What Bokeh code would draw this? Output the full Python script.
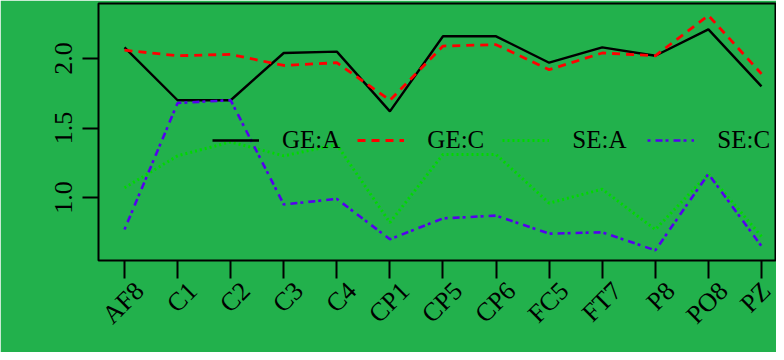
import math
from bokeh.plotting import figure
from bokeh.models import (FixedTicker, Legend, LegendItem, ColumnDataSource, Range1d,
                          LinearAxis, PrintfTickFormatter)
from bokeh.embed import file_html
from bokeh.resources import INLINE

channels = ["AF8", "C1", "C2", "C3", "C4", "CP1", "CP5", "CP6", "FC5", "FT7", "P8", "PO8", "PZ"]
ge_a = [2.08, 1.70, 1.70, 2.04, 2.05, 1.62, 2.16, 2.16, 1.97, 2.08, 2.02, 2.21, 1.80]
ge_c = [2.06, 2.02, 2.03, 1.95, 1.97, 1.70, 2.09, 2.10, 1.92, 2.04, 2.02, 2.31, 1.89]
se_a = [1.07, 1.30, 1.40, 1.30, 1.38, 0.82, 1.31, 1.31, 0.96, 1.06, 0.77, 1.17, 0.72]
se_c = [0.77, 1.68, 1.70, 0.95, 0.99, 0.70, 0.85, 0.87, 0.74, 0.75, 0.62, 1.17, 0.65]
y_ticks = [1.0, 1.5, 2.0]

idx = list(range(1, len(channels) + 1))
src = ColumnDataSource(dict(x=idx, ge_a=ge_a, ge_c=ge_c, se_a=se_a, se_c=se_c))

BG = "#22B14C"
FONT = "Liberation Serif"
X0, X1 = 0.51, 13.283
FRAME_W = 678
shift = 15 * (X1 - X0) / FRAME_W   # label shift to the right, in x units

p = figure(width=776, height=352, output_backend="svg", toolbar_location=None,
           x_range=Range1d(X0, X1), y_range=Range1d(0.547, 2.396),
           min_border_left=98, min_border_right=0, min_border_top=3, min_border_bottom=92)
p.extra_x_ranges = {"lab": Range1d(X0 - shift, X1 - shift)}
p.background_fill_color = BG
p.border_fill_color = BG
p.outline_line_color = "black"
p.outline_line_width = 2
p.grid.visible = False

r1 = p.line("x", "ge_a", source=src, line_color="black", line_width=2.4)
r2 = p.line("x", "ge_c", source=src, line_color="#FF0000", line_width=2.8, line_dash="8 6")
r3 = p.line("x", "se_a", source=src, line_color="#00D800", line_width=3, line_dash="2 3")
r4 = p.line("x", "se_c", source=src, line_color="#5500EE", line_width=2.6, line_dash="3 5 7 3")

for ax in (p.xaxis[0], p.yaxis[0]):
    ax.axis_line_color = None
    ax.major_tick_line_color = "black"
    ax.major_tick_line_width = 2
    ax.major_tick_in = 0
    ax.minor_tick_line_color = None
    ax.major_label_text_font = FONT
    ax.major_label_text_font_size = "26px"
    ax.major_label_text_color = "black"

# tick marks only
p.xaxis[0].ticker = FixedTicker(ticks=idx)
p.xaxis[0].major_label_overrides = {i: "" for i in idx}
p.xaxis[0].major_label_text_font_size = "1px"
p.xaxis[0].major_label_standoff = 0
p.xaxis[0].major_tick_out = 18

# tick labels, set slightly to the right of the ticks as in the original
lab_axis = LinearAxis(x_range_name="lab", ticker=FixedTicker(ticks=idx),
                      major_label_overrides={i: c for i, c in zip(idx, channels)},
                      major_label_orientation=math.pi / 4, major_label_standoff=8,
                      major_label_text_font=FONT, major_label_text_font_size="26px",
                      major_label_text_color="black", axis_line_color=None,
                      major_tick_line_color=None, minor_tick_line_color=None,
                      major_tick_out=0, major_tick_in=0)
p.add_layout(lab_axis, "below")

p.yaxis[0].ticker = FixedTicker(ticks=y_ticks)
p.yaxis[0].formatter = PrintfTickFormatter(format="%.1f")
p.yaxis[0].major_label_orientation = "vertical"
p.yaxis[0].major_tick_out = 16
p.yaxis[0].major_label_standoff = 10

legend = Legend(items=[LegendItem(label="GE:A", renderers=[r1]),
                       LegendItem(label="GE:C", renderers=[r2]),
                       LegendItem(label="SE:A", renderers=[r3]),
                       LegendItem(label="SE:C", renderers=[r4])],
                orientation="horizontal", location=(114, 106),
                background_fill_alpha=0, border_line_color=None,
                label_text_font=FONT, label_text_font_size="25px", label_text_color="black",
                glyph_width=47, glyph_height=20, label_standoff=23,
                spacing=17, label_width=58, padding=0, margin=0)
p.add_layout(legend)

open("out.html", "w").write(file_html(p, INLINE))
